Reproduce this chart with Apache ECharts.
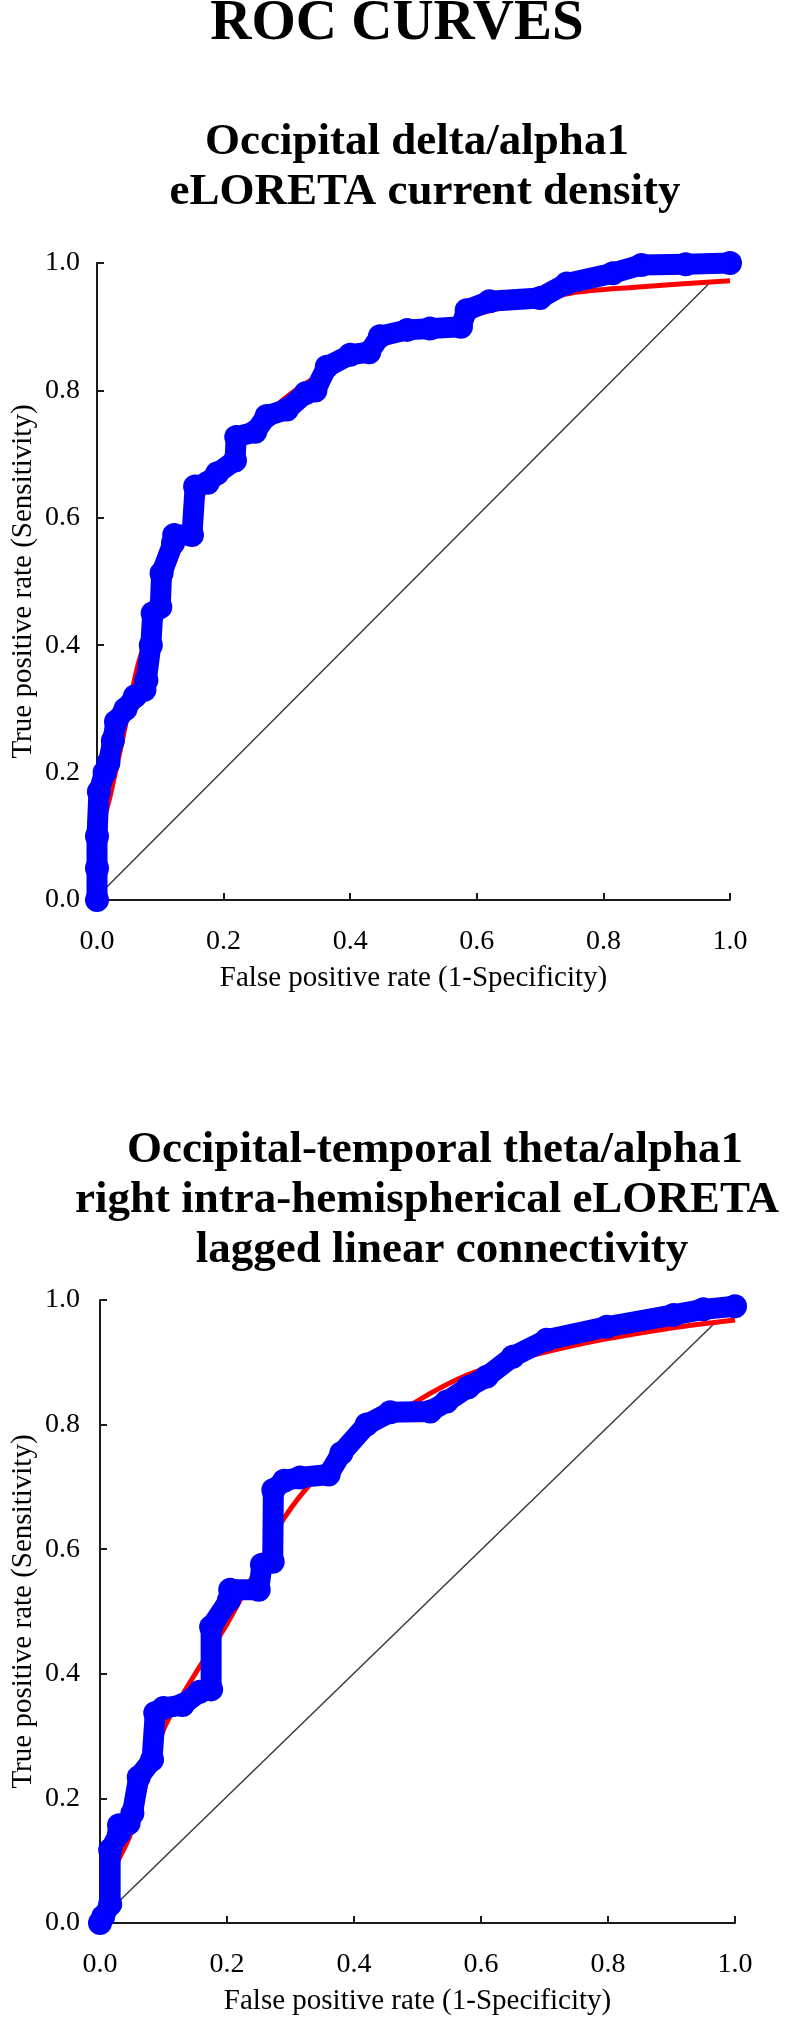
<!DOCTYPE html>
<html>
<head>
<meta charset="utf-8">
<script src="https://cdn.jsdelivr.net/npm/echarts@6/dist/echarts.min.js"></script>
<style>
html,body{margin:0;padding:0;background:#fff;}
#c{width:787px;height:2043px;}
</style>
</head>
<body>
<div id="c"></div>
<script>
// ---- data ----
const mainTitle = 'ROC CURVES';
const chart1Title = ['Occipital delta/alpha1', 'eLORETA current density'];
const chart2Title = ['Occipital-temporal theta/alpha1', 'right intra-hemispherical eLORETA', 'lagged linear connectivity'];
const xAxisName = 'False positive rate (1-Specificity)';
const yAxisName = 'True positive rate (Sensitivity)';
const tickValues = [0, 0.2, 0.4, 0.6, 0.8, 1.0];

// chart 1: empirical ROC (blue) [FPR, TPR]
const roc1Empirical = [
  [0,0],[0,0.05],[0,0.1],[0.003,0.17],[0.012,0.2],[0.018,0.215],[0.025,0.25],[0.03,0.28],
  [0.045,0.3],[0.06,0.32],[0.075,0.33],[0.078,0.345],[0.085,0.4],[0.088,0.45],[0.1,0.46],
  [0.102,0.513],[0.12,0.56],[0.122,0.573],[0.15,0.573],[0.155,0.649],[0.175,0.655],[0.19,0.67],
  [0.218,0.69],[0.22,0.727],[0.25,0.735],[0.268,0.76],[0.3,0.77],[0.33,0.796],[0.345,0.8],
  [0.363,0.837],[0.4,0.856],[0.43,0.86],[0.447,0.885],[0.49,0.895],[0.526,0.897],[0.575,0.9],
  [0.584,0.926],[0.62,0.94],[0.7,0.945],[0.742,0.968],[0.815,0.984],[0.86,0.997],[0.93,0.998],[1.0,1.0]
];
// chart 1: fitted ROC (red)
const roc1Fitted = [
  [0,0],[0.005,0.1],[0.02,0.16],[0.04,0.25],[0.065,0.37],[0.1,0.47],[0.15,0.6],[0.2,0.69],
  [0.3,0.79],[0.4,0.85],[0.5,0.89],[0.6,0.92],[0.75,0.953],[0.85,0.962],[1.0,0.972]
];
// chart 1: chance diagonal
const diag1 = [[0.01,0.015],[0.968,0.969]];

// chart 2: empirical ROC (blue)
const roc2Empirical = [
  [0,0],[0.005,0.01],[0.016,0.03],[0.016,0.117],[0.03,0.144],[0.03,0.157],[0.045,0.16],
  [0.051,0.176],[0.061,0.234],[0.082,0.262],[0.087,0.337],[0.1,0.345],[0.13,0.35],[0.157,0.371],
  [0.175,0.375],[0.175,0.475],[0.203,0.518],[0.205,0.535],[0.25,0.535],[0.255,0.575],[0.272,0.58],
  [0.273,0.695],[0.29,0.71],[0.315,0.715],[0.36,0.72],[0.38,0.754],[0.42,0.8],[0.457,0.82],
  [0.52,0.821],[0.546,0.837],[0.58,0.86],[0.609,0.877],[0.65,0.909],[0.703,0.936],[0.798,0.957],
  [0.903,0.976],[0.95,0.985],[1.0,0.99]
];
// chart 2: fitted ROC (red)
const roc2Fitted = [
  [0,0],[0.01,0.06],[0.047,0.14],[0.1,0.31],[0.15,0.4],[0.2,0.48],[0.25,0.575],[0.29,0.65],
  [0.336,0.71],[0.4,0.77],[0.52,0.85],[0.6,0.888],[0.76,0.93],[0.9,0.955],[1.0,0.968]
];
// chart 2: chance diagonal
const diag2 = [[0.03,0.035],[0.965,0.96]];

// ---- chart ----
const SERIF = '"Liberation Serif", "Times New Roman", serif';
const chart = echarts.init(document.getElementById('c'), null, {renderer: 'canvas'});

function axisCommon(nameGap, labelMargin) {
  return {
    type: 'value', min: 0, max: 1, interval: 0.2,
    splitLine: {show: false},
    axisLine: {show: true, lineStyle: {color: '#1a1a1a', width: 2}},
    axisTick: {show: true, inside: true, length: 7, lineStyle: {color: '#1a1a1a', width: 2}},
    axisLabel: {color: '#000', fontFamily: SERIF, fontSize: 28, margin: labelMargin,
      formatter: v => tickValues.includes(+v.toFixed(1)) ? v.toFixed(1) : ''},
    nameLocation: 'middle', nameGap: nameGap, nameMoveOverlap: false,
    nameTextStyle: {color: '#000', fontFamily: SERIF, fontSize: 29}
  };
}

function titleTexts(lines, centers, mids) {
  return lines.map((t, i) => ({
    type: 'text', x: centers[i], y: mids[i],
    style: {text: t, fill: '#000', font: 'bold 45px ' + SERIF,
      align: 'center', verticalAlign: 'middle'}
  }));
}

function blueSeries(idx, data) {
  return {type: 'line', xAxisIndex: idx, yAxisIndex: idx, data: data, clip: false,
    symbol: 'circle', symbolSize: 24, showAllSymbol: true,
    itemStyle: {color: '#0000ff'},
    lineStyle: {color: '#0000ff', width: 21, cap: 'round', join: 'round'}, z: 3};
}
function redSeries(idx, data) {
  return {type: 'line', xAxisIndex: idx, yAxisIndex: idx, data: data, showSymbol: false,
    smooth: 0.3, clip: false, lineStyle: {color: '#ff0000', width: 5}, z: 2};
}
function diagSeries(idx, data) {
  return {type: 'line', xAxisIndex: idx, yAxisIndex: idx, data: data, showSymbol: false,
    clip: false, lineStyle: {color: '#3a3a3a', width: 1.5}, z: 1};
}

const option = {
  animation: false,
  backgroundColor: '#fff',
  graphic: [
    {type: 'text', x: 397, y: 24,
     style: {text: mainTitle, fill: '#000', font: 'bold 57px ' + SERIF, align: 'center', verticalAlign: 'middle'}},
    ...titleTexts(chart1Title, [417, 425], [142, 192]),
    ...titleTexts(chart2Title, [435, 427, 442], [1150, 1200, 1250])
  ],
  grid: [
    {left: 97, top: 263, width: 633, height: 637, outerBoundsMode: 'none', containLabel: false},
    {left: 100, top: 1300, width: 635, height: 623, outerBoundsMode: 'none', containLabel: false}
  ],
  xAxis: [
    Object.assign(axisCommon(64, 28), {gridIndex: 0, name: xAxisName}),
    Object.assign(axisCommon(64, 28), {gridIndex: 1, name: xAxisName})
  ],
  yAxis: [
    Object.assign(axisCommon(59, 17), {gridIndex: 0, name: yAxisName}),
    Object.assign(axisCommon(62, 20), {gridIndex: 1, name: yAxisName})
  ],
  series: [
    diagSeries(0, diag1), redSeries(0, roc1Fitted), blueSeries(0, roc1Empirical),
    diagSeries(1, diag2), redSeries(1, roc2Fitted), blueSeries(1, roc2Empirical)
  ]
};
chart.setOption(option);
</script>
</body>
</html>
